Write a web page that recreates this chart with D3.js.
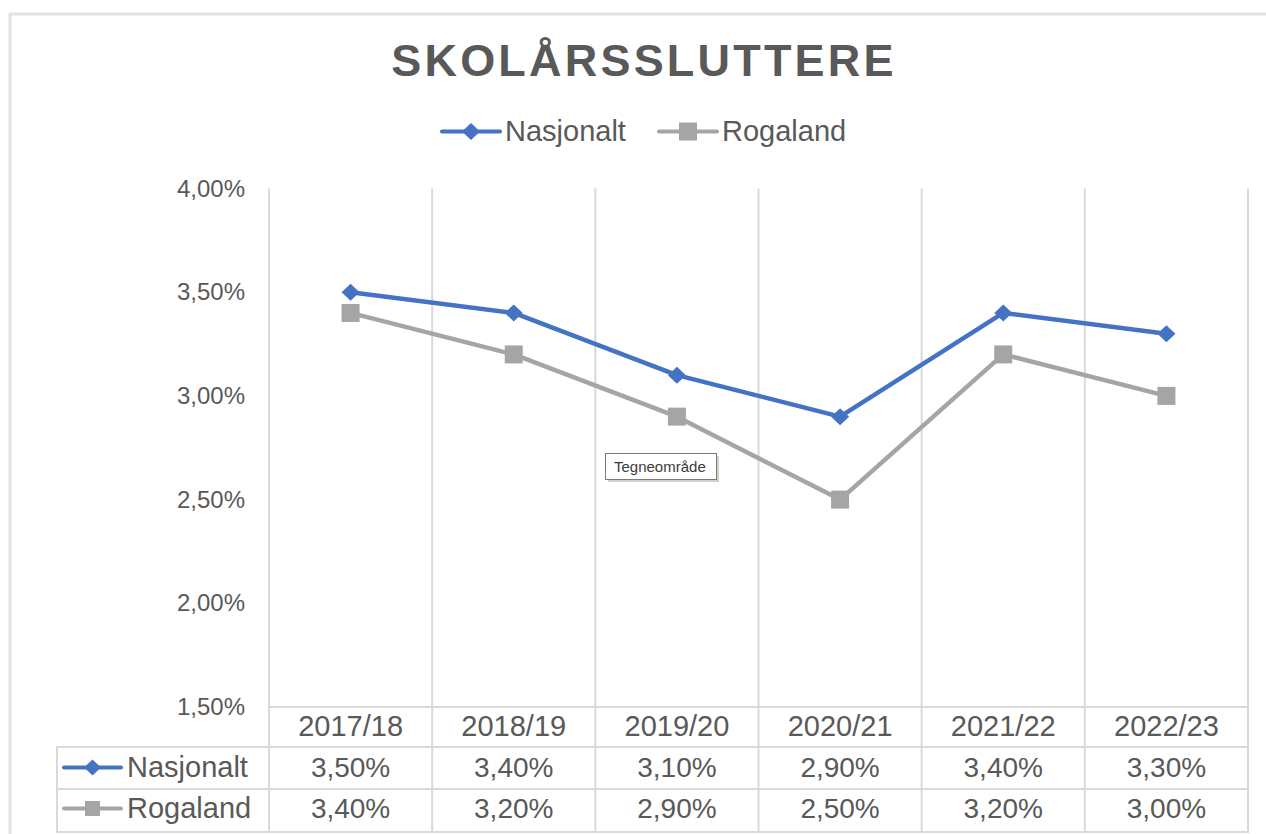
<!DOCTYPE html>
<html>
<head>
<meta charset="utf-8" />
<title>Skolårssluttere</title>
<script src="https://cdn.jsdelivr.net/npm/d3@7/dist/d3.min.js"></script>
<style>
body { margin: 0; background: #fff; }
svg text { font-family: "Liberation Sans", Arial, sans-serif; fill: #595959; }
</style>
</head>
<body>
<div id="chart"></div>
<script>
// data
const years = ["2017/18", "2018/19", "2019/20", "2020/21", "2021/22", "2022/23"];
const nasjonalt = [3.5, 3.4, 3.1, 2.9, 3.4, 3.3];
const rogaland = [3.4, 3.2, 2.9, 2.5, 3.2, 3.0];
const yTicks = [1.5, 2.0, 2.5, 3.0, 3.5, 4.0];
const chartTitle = "SKOLÅRSSLUTTERE";
const hoverLabel = "Tegneområde";

const series = [
	{name: "Nasjonalt", values: nasjonalt, color: "#4472C4", marker: "diamond"},
	{name: "Rogaland", values: rogaland, color: "#A5A5A5", marker: "square"}
];

const width = 1266, height = 834;
const gridColor = "#d9d9d9";

const locale = d3.formatLocale({decimal: ",", thousands: " ", grouping: [3], currency: ["", " kr"]});
const pct = v => locale.format(".2f")(v) + "%";

const svg = d3.select("#chart").append("svg")
	.attr("width", width)
	.attr("height", height);

// chart frame (right and bottom edges are cut off in the picture)
svg.append("path")
	.attr("d", "M10,836 L10,14 L1268,14")
	.attr("fill", "none")
	.attr("stroke", "#e3e3e3")
	.attr("stroke-width", 3);

const x = d3.scaleBand().domain(years).range([269, 1248]).padding(0);
const y = d3.scaleLinear().domain([1.5, 4]).range([707, 188.5]);

// title
svg.append("text")
	.attr("x", 644)
	.attr("y", 76)
	.attr("text-anchor", "middle")
	.attr("font-size", 45)
	.attr("font-weight", "bold")
	.attr("letter-spacing", 3.2)
	.text(chartTitle);

// marker shapes
function drawMarker(g, type, cx, cy, color, size) {
	if (type === "diamond") {
		const w = size / 2, h = size / 2 - 0.5;
		g.append("path")
			.attr("d", "M0," + (-h) + "L" + w + ",0L0," + h + "L" + (-w) + ",0Z")
			.attr("transform", "translate(" + cx + "," + cy + ")")
			.attr("fill", color);
	} else {
		g.append("rect")
			.attr("x", cx - size / 2).attr("y", cy - size / 2)
			.attr("width", size).attr("height", size)
			.attr("fill", color);
	}
}

function legendKey(g, s, x0, cy, len, msize) {
	g.append("line")
		.attr("x1", x0).attr("x2", x0 + len)
		.attr("y1", cy).attr("y2", cy)
		.attr("stroke", s.color).attr("stroke-width", 4)
		.attr("stroke-linecap", "round");
	drawMarker(g, s.marker, x0 + len / 2, cy, s.color, msize);
}

// legend at top
const legend = svg.append("g");
const legendX = [442, 659];
series.forEach(function(s, i) {
	legendKey(legend, s, legendX[i], 131.5, 58, 18);
	legend.append("text")
		.attr("x", legendX[i] + 63)
		.attr("y", 141)
		.attr("font-size", 29)
		.text(s.name);
});

// vertical gridlines (between categories), down through the data table
const bounds = years.map(d => x(d)).concat([x.range()[1]]);
svg.append("g").selectAll("line")
	.data(bounds)
	.enter().append("line")
		.attr("x1", d => d).attr("x2", d => d)
		.attr("y1", y(4)).attr("y2", 832)
		.attr("stroke", gridColor).attr("stroke-width", 2);

// data table horizontal rules
const rowLines = [
	{y: 707, x1: 269},
	{y: 747, x1: 57},
	{y: 789, x1: 57},
	{y: 832, x1: 57}
];
svg.append("g").selectAll("line")
	.data(rowLines)
	.enter().append("line")
		.attr("x1", d => d.x1).attr("x2", 1249)
		.attr("y1", d => d.y).attr("y2", d => d.y)
		.attr("stroke", gridColor).attr("stroke-width", 2);
svg.append("line")
	.attr("x1", 57).attr("x2", 57)
	.attr("y1", 746).attr("y2", 833)
	.attr("stroke", gridColor).attr("stroke-width", 2);

// y axis
const yAxis = d3.axisLeft(y).tickValues(yTicks).tickFormat(pct).tickSize(0).tickPadding(0);
const yg = svg.append("g")
	.attr("transform", "translate(245,0)")
	.call(yAxis);
yg.select(".domain").remove();
yg.selectAll("text")
	.attr("font-size", 24)
	.attr("fill", "#595959")
	.attr("font-family", "Liberation Sans, Arial, sans-serif");

// category row of the table
const xAxis = d3.axisTop(x).tickSize(0).tickPadding(0);
const xg = svg.append("g")
	.attr("transform", "translate(0,736)")
	.call(xAxis);
xg.select(".domain").remove();
xg.selectAll("text")
	.attr("font-size", 29)
	.attr("fill", "#595959")
	.attr("font-family", "Liberation Sans, Arial, sans-serif")
	.attr("dy", 0);

// value rows of the table
const rowBase = [777, 818];
const rowMid = [767.5, 808.5];
series.forEach(function(s, i) {
	const row = svg.append("g");
	legendKey(row, s, 64, rowMid[i], 57, s.marker === "diamond" ? 17 : 15);
	row.append("text")
		.attr("x", 127)
		.attr("y", rowBase[i])
		.attr("font-size", 29)
		.text(s.name);
	row.selectAll("text.val")
		.data(s.values)
		.enter().append("text")
			.attr("class", "val")
			.attr("x", (d, j) => x(years[j]) + x.bandwidth() / 2)
			.attr("y", rowBase[i])
			.attr("text-anchor", "middle")
			.attr("font-size", 28)
			.text(d => pct(d));
});

// lines and markers
const line = d3.line()
	.x((d, j) => x(years[j]) + x.bandwidth() / 2)
	.y(d => y(d));

series.forEach(function(s) {
	const g = svg.append("g");
	g.append("path")
		.datum(s.values)
		.attr("d", line)
		.attr("fill", "none")
		.attr("stroke", s.color)
		.attr("stroke-width", 4.5)
		.attr("stroke-linejoin", "round");
	s.values.forEach(function(v, j) {
		drawMarker(g, s.marker, x(years[j]) + x.bandwidth() / 2, y(v), s.color, 18);
	});
});

// hover label left in the picture
const tip = svg.append("g").attr("transform", "translate(605,453)");
tip.append("rect")
	.attr("x", 3).attr("y", 3).attr("width", 111).attr("height", 26)
	.attr("fill", "rgba(0,0,0,0.18)");
tip.append("rect")
	.attr("x", 0.5).attr("y", 0.5).attr("width", 111).attr("height", 26)
	.attr("fill", "#fff").attr("stroke", "#7a7a7a").attr("stroke-width", 1);
tip.append("text")
	.attr("x", 9).attr("y", 19)
	.attr("font-size", 15)
	.style("fill", "#3c3c3c")
	.text(hoverLabel);
</script>
</body>
</html>
